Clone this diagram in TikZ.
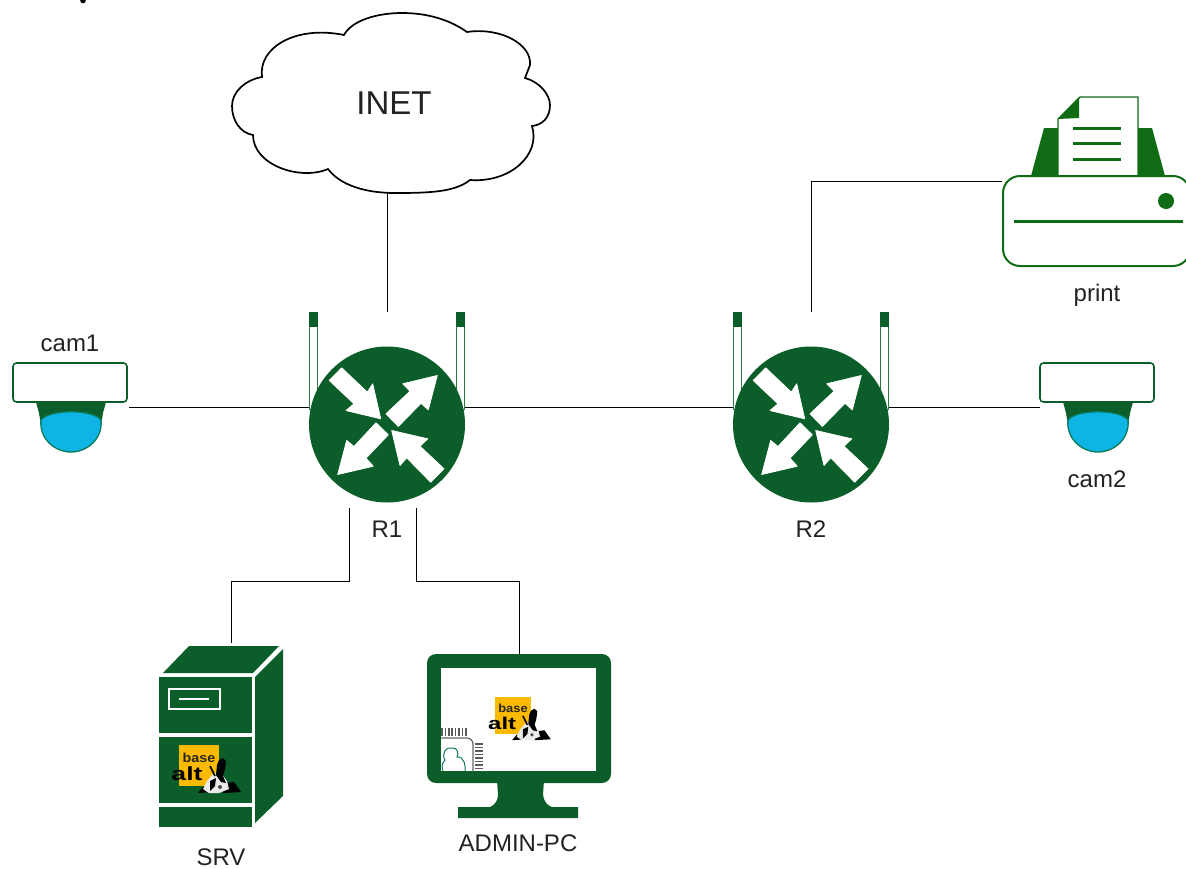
\documentclass[tikz,border=0pt]{standalone}
\usepackage{fontspec}
\setmainfont{Liberation Sans}
\definecolor{rgreen}{HTML}{0B5E2A}
\definecolor{pgreen}{HTML}{0F6B14}
\definecolor{camblue}{HTML}{0DB4E4}
\definecolor{camedge}{HTML}{0B7A5A}
\definecolor{logoy}{HTML}{FBBA00}
\definecolor{txt}{HTML}{222222}
\newcommand{\fs}[1]{\fontsize{#1}{#1}\selectfont}
\tikzset{
  x=1pt,y=-1pt,
  link/.style={draw=black,line width=1pt},
  hub/.style={rectangle,inner sep=0pt,outer sep=0pt,draw=none,fill=none,minimum width=#1},
  lbl/.style={text=txt,font=\fs{24},inner sep=0pt},
  whiteline/.style={draw=white,line width=1.6pt},
  arrowfill/.style={fill=white,draw=white,line width=0.8pt,line join=round},
  routericon/.pic={
    \foreach \sx in {-73.5,73.5}{
      \filldraw[fill=white,draw=rgreen!85,line width=1.2pt] (\sx-4,-98) rectangle (\sx+4,-15);
      \fill[rgreen] (\sx-4.5,-112.5) rectangle (\sx+4.5,-98);
    }
    \fill[rgreen] (0,0) circle (78);
    \path[arrowfill] (50.3,-49) -- (41.3,-14.7) -- (34,-21.3) -- (11.3,2) -- (-1,-10.7) -- (23,-33.3) -- (15.7,-40.7) -- cycle;
    \path[arrowfill] (-6.3,-5.7) -- (-14.3,-40.7) -- (-19.7,-32.3) -- (-45.3,-56.7) -- (-57.7,-44) -- (-33,-20.7) -- (-41,-14) -- cycle;
    \path[arrowfill] (-49.3,50) -- (-40.3,16) -- (-33,22) -- (-11,-1.7) -- (1.3,10.3) -- (-21,33.7) -- (-13.7,41.7) -- cycle;
    \path[arrowfill] (4.7,6) -- (40.7,14.3) -- (33,21.7) -- (57,44.3) -- (43.7,57.7) -- (19.7,33.3) -- (13,41) -- cycle;
  },
  camicon/.pic={
    \fill[rgreen] (23,39) -- (93,39) -- (90,50) -- (88,62) -- (28,62) -- (26,50) -- cycle;
    \filldraw[fill=camblue,draw=camedge,line width=1.3pt] (28,57) .. controls (36,46) and (80,46) .. (88,57)
      .. controls (90,76) and (74,89) .. (58,89) .. controls (42,89) and (26,76) .. (28,57) -- cycle;
    \filldraw[fill=white,draw=rgreen,line width=1.6pt,rounded corners=3.5pt] (0,0) rectangle (114,39);
  },
  logoicon/.pic={
    \fill[logoy] (0,0) rectangle (40,41);
    \node[text=black!85,font=\bfseries\fs{13},inner sep=0pt,xscale=1.1,transform shape] (logobase) at (20,13) {base};
    \node[text=black,font=\bfseries\fs{19},inner sep=0pt,xscale=1.4,transform shape] (logoalt) at (8,29) {alt};
    % ground
    \fill[black] (19,48) -- (24,42) -- (32,40) -- (34,47) -- cycle;
    \fill[black] (46,38) -- (55,37) -- (62,47) -- (44,48) -- cycle;
    % body
    \fill[white!92!black] (24,44) -- (28,36) -- (35,28) -- (41,27) -- (48,36) -- (50,44) -- (40,48) -- (30,48) -- cycle;
    % head, back and flecks
    \fill[black] (37,30) -- (38,20) -- (40,15) -- (44,13) -- (47,16) -- (46,24) -- (44,31) -- (47,38) -- (42,37) -- cycle;
    \draw[black,line width=1.6pt] (31,21) -- (36,31);
    \fill[black] (31,36) -- (37,33) -- (36,41) -- (31,46) -- cycle;
    \fill[black!70] (41,42) circle (2);
  }
}
\begin{document}
\begin{tikzpicture}
\useasboundingbox (0,0) rectangle (1186,868);
\fill[black] (83,0.5) circle (2.8);

% --- hubs (invisible frames that connectors attach to)
\node[hub=156,minimum height=190] (R1) at (387,407) {};
\node[hub=156,minimum height=190] (R2) at (811,407) {};
\node[hub=116,minimum height=88] (cam1) at (71,407) {};
\node[hub=116,minimum height=88] (cam2) at (1098,407) {};
\node[hub=184,minimum height=170] (print) at (1094,181) {};
\node[hub=324,minimum height=180] (cloud) at (387,103) {};
\node[hub=184,minimum height=163] (admin) at (519,736.5) {};
\coordinate (srvport) at (231,643);
\coordinate (srvbus) at (231,581);
\coordinate (adminbus) at (519,581);
\coordinate (r1a) at (349,508);
\coordinate (r1b) at (416,508);

% --- connectors
\draw[link] (cloud.south) -- (R1.north);
\draw[link] (cam1.east) -- (R1.west);
\draw[link] (R1.east) -- (R2.west);
\draw[link] (R2.east) -- (cam2.west);
\draw[link] (R2.north) |- (print.west);
\draw[link] (r1a) |- (srvbus) -- (srvport);
\draw[link] (r1b) |- (adminbus) -- (admin.north);

% --- cloud
\draw[black,line width=1.7pt,fill=white]
  (344,35) .. controls (352,20) and (378,13) .. (402,13) .. controls (428,13) and (450,20) .. (467,32)
  .. controls (500,27) and (532,44) .. (530,65) -- (525,78)
  .. controls (540,82) and (550,95) .. (550,105) .. controls (550,118) and (542,125) .. (532,126)
  .. controls (541,155) and (510,183) .. (470,180)
  .. controls (455,192) and (430,193) .. (395,193) .. controls (365,193) and (340,185) .. (328,169)
  .. controls (300,181) and (253,165) .. (253,135)
  .. controls (240,133) and (232,120) .. (232,106) .. controls (232,92) and (245,80) .. (262,77)
  .. controls (258,48) and (295,25) .. (344,35) -- cycle;
\node[text=txt,font=\fs{33},inner sep=0pt] (inetlabel) at (394,103) {INET};

% --- routers
\pic at (387,424.5) {routericon};
\pic at (811,424.5) {routericon};
\node[lbl] (r1label) at (387,529) {R1};
\node[lbl] (r2label) at (811,529) {R2};

% --- cameras
\pic at (13,363) {camicon};
\pic at (1040,363) {camicon};
\node[lbl] (cam1label) at (70,343) {cam1};
\node[lbl] (cam2label) at (1097,479) {cam2};

% --- printer
\fill[pgreen] (1031,176) -- (1044,128) -- (1152,128) -- (1165,176) -- cycle;
\filldraw[fill=white,draw=pgreen,line width=1.4pt] (1058,178) -- (1058,119) -- (1080,97) -- (1138,97) -- (1138,178) -- cycle;
\fill[pgreen] (1058,119) -- (1079,97) -- (1079,118) -- cycle;
\foreach \ly in {128,143,159}{\draw[pgreen,line width=3pt] (1073,\ly) -- (1121,\ly);}
\draw[pgreen,line width=2pt,fill=white,rounded corners=17pt] (1003,176) rectangle (1190,266);
\fill[pgreen] (1166,201) circle (8);
\draw[pgreen,line width=3pt] (1014,221) -- (1183,221);
\node[lbl] (printlabel) at (1097,295) {print};

% --- server
\fill[rgreen] (163,673) -- (189,646) -- (279,646) -- (253,673) -- cycle;
\fill[rgreen] (255,677) -- (283,649) -- (283,796) -- (255,823) -- cycle;
\fill[rgreen] (159,677) rectangle (252,733);
\fill[rgreen] (159,737) rectangle (252,803);
\fill[rgreen] (159,807) rectangle (252,827);
\draw[whiteline] (169,689) rectangle (220,709);
\draw[whiteline] (179,699) -- (209,699);
\pic at (179,745) {logoicon};
\node[lbl] (srvlabel) at (221,857) {SRV};

% --- admin pc
\fill[rgreen,rounded corners=9pt] (427,654) rectangle (611,783);
\fill[rgreen] (497,780) -- (544,780) -- (543,795) .. controls (544,802) and (548,806) .. (552,807) -- (578,807) -- (578,818) -- (458,818) -- (458,807) -- (490,807) .. controls (495,805) and (498,800) .. (498,795) -- cycle;
\fill[white] (441,668) rectangle (596,771);
\pic[scale=0.9] at (495,697) {logoicon};
\begin{scope}
  \clip (441,668) rectangle (596,771);
  \draw[gray!80!black,line width=1.2pt,rounded corners=6pt] (436,738) -- (473,738) -- (473,780);
  \foreach \i in {0,...,7}{\draw[gray!70!black,line width=1.5pt] (442+\i*3.4,728) -- (442+\i*3.4,736);}
  \foreach \i in {0,...,7}{\draw[gray!70!black,line width=1.5pt] (475,744+\i*3.5) -- (483,744+\i*3.5);}
  \draw[camedge,line width=1pt] (443,771) .. controls (441,764) and (443,762) .. (445,760) .. controls (441,754) and (446,746) .. (452,748) .. controls (458,747) and (459,755) .. (457,757) .. controls (464,756) and (466,766) .. (465,771);
\end{scope}
\node[lbl] (adminlabel) at (518,843) {ADMIN-PC};
\end{tikzpicture}
\end{document}
